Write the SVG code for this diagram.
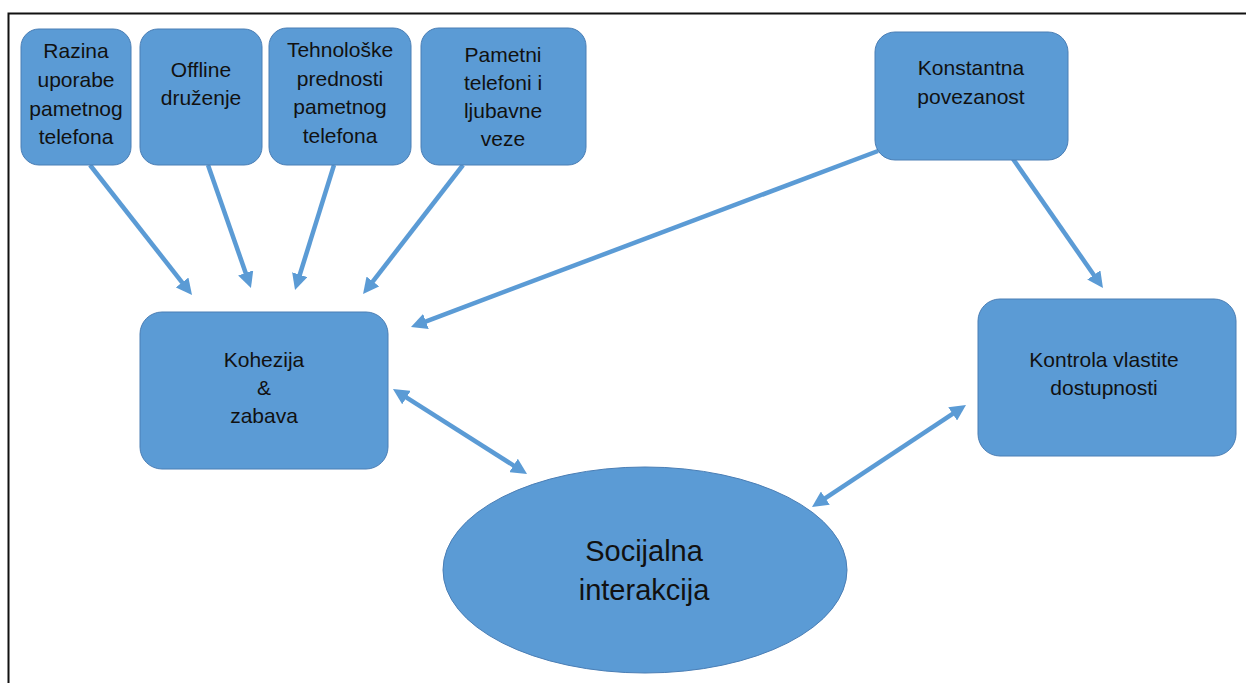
<svg xmlns="http://www.w3.org/2000/svg" width="1246" height="683" viewBox="0 0 1246 683">
<style>
.box{fill:#5B9BD5;stroke:#4A7EB5;stroke-width:1}
.t{font-family:"Liberation Sans",Arial,sans-serif;font-size:21px;fill:#111;text-anchor:middle}
.big{font-size:29px}
.c{stroke:#5B9BD5;stroke-width:4.5;fill:none}
.a{marker-end:url(#ah)}
.d{marker-start:url(#ah);marker-end:url(#ah)}
</style>
<defs>
<marker id="ah" viewBox="0 0 16 16" refX="4" refY="8" markerWidth="16" markerHeight="16" markerUnits="userSpaceOnUse" orient="auto-start-reverse">
<path d="M0,0 L16,8 L0,16 z" fill="#5B9BD5"/>
</marker>
</defs>
<rect width="1246" height="683" fill="#fff"/>
<g id="frame" stroke="#111" stroke-width="2" fill="none">
<path d="M8.5,683 L8.5,13.5 L1246,13.5"/>
</g>
<g id="connectors">
<line class="c a" x1="90" y1="165" x2="184.6" y2="285.6"/>
<line class="c a" x1="208" y1="165" x2="247" y2="276.7"/>
<line class="c a" x1="334" y1="165" x2="298.6" y2="278.5"/>
<line class="c a" x1="463" y1="165" x2="370.4" y2="284.6"/>
<line class="c a" x1="878" y1="151" x2="422.2" y2="322.8"/>
<line class="c a" x1="1013" y1="159" x2="1096.1" y2="278.2"/>
<line class="c d" x1="403.1" y1="395.4" x2="516.9" y2="467.6"/>
<line class="c d" x1="956" y1="411.6" x2="822" y2="500.4"/>
</g>
<g id="n-razina">
<rect class="box" x="21" y="29" width="110" height="136" rx="18"/>
<text class="t" x="76" y="58">Razina</text>
<text class="t" x="76" y="87">uporabe</text>
<text class="t" x="76" y="116">pametnog</text>
<text class="t" x="76" y="144">telefona</text>
</g>
<g id="n-offline">
<rect class="box" x="140" y="29" width="122" height="136" rx="18"/>
<text class="t" x="201" y="77">Offline</text>
<text class="t" x="201" y="105">druženje</text>
</g>
<g id="n-tehno">
<rect class="box" x="269" y="28" width="142" height="137" rx="18"/>
<text class="t" x="340" y="57">Tehnološke</text>
<text class="t" x="340" y="86">prednosti</text>
<text class="t" x="340" y="114">pametnog</text>
<text class="t" x="340" y="143">telefona</text>
</g>
<g id="n-pametni">
<rect class="box" x="421" y="28" width="165" height="137" rx="18"/>
<text class="t" x="503" y="62">Pametni</text>
<text class="t" x="503" y="90">telefoni i</text>
<text class="t" x="503" y="118">ljubavne</text>
<text class="t" x="503" y="146">veze</text>
</g>
<g id="n-konstantna">
<rect class="box" x="875" y="32" width="193" height="128" rx="20"/>
<text class="t" x="971" y="75">Konstantna</text>
<text class="t" x="971" y="104">povezanost</text>
</g>
<g id="n-kohezija">
<rect class="box" x="140" y="312" width="248" height="157" rx="22"/>
<text class="t" x="264" y="367">Kohezija</text>
<text class="t" x="264" y="395">&amp;</text>
<text class="t" x="264" y="423">zabava</text>
</g>
<g id="n-kontrola">
<rect class="box" x="978" y="299" width="258" height="157" rx="22"/>
<text class="t" x="1104" y="367">Kontrola vlastite</text>
<text class="t" x="1104" y="395">dostupnosti</text>
</g>
<g id="n-socijalna">
<ellipse class="box" cx="645" cy="570" rx="202" ry="103"/>
<text class="t big" x="644" y="561">Socijalna</text>
<text class="t big" x="644" y="600">interakcija</text>
</g>
</svg>
